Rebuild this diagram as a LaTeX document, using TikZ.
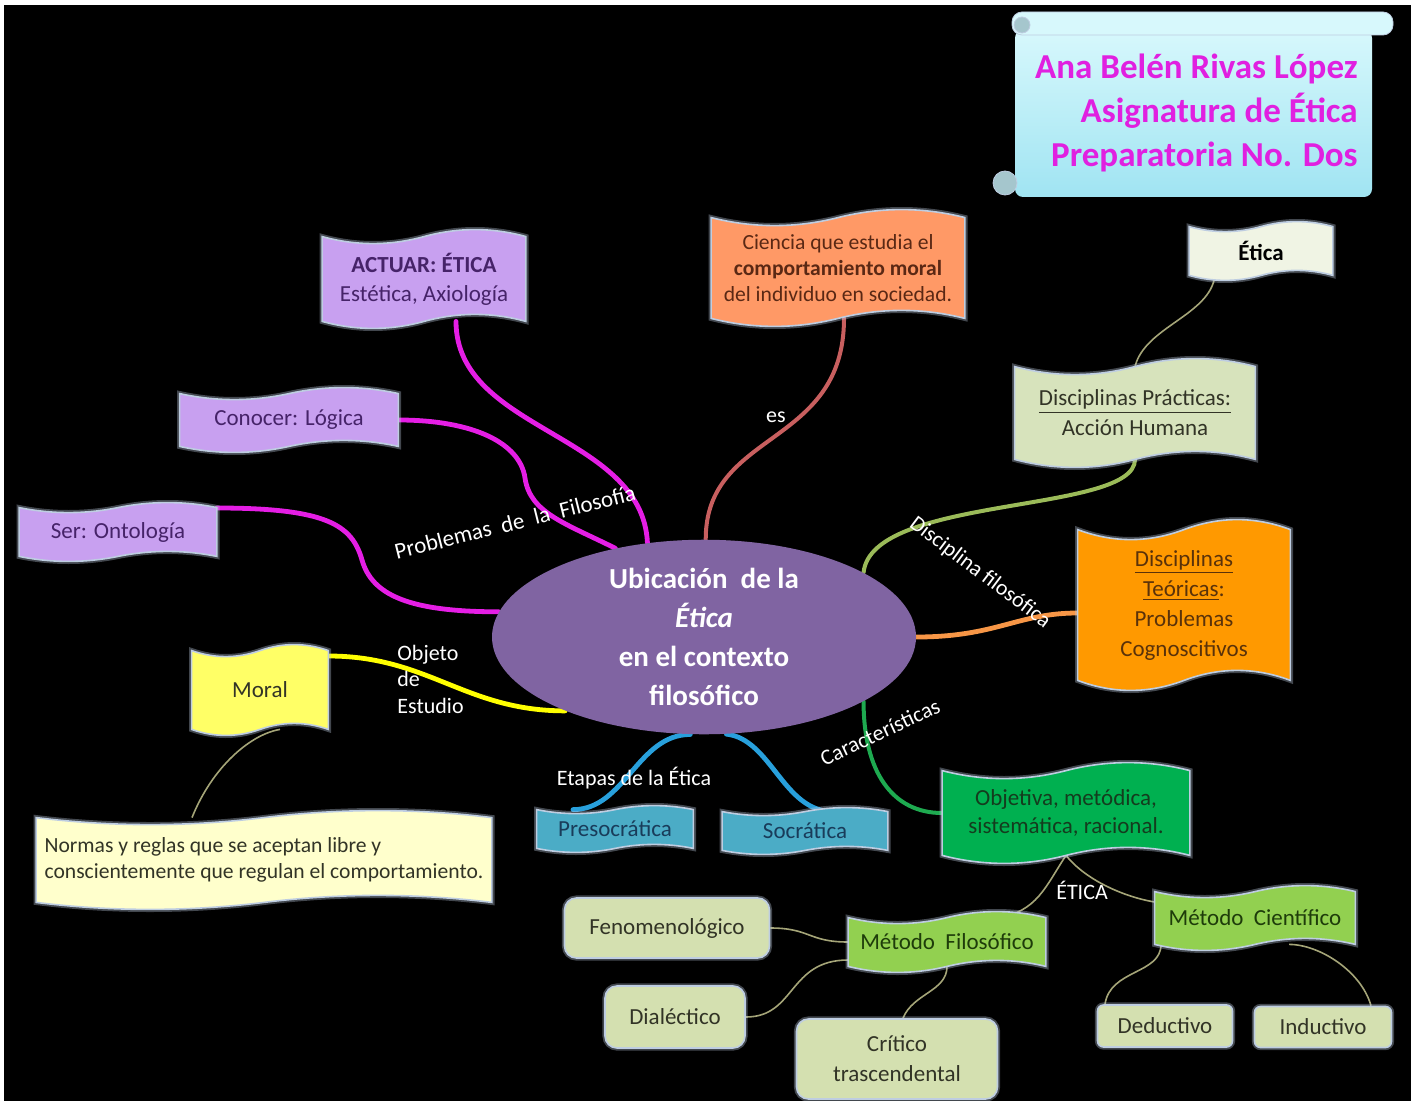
\documentclass[tikz,border=0pt]{standalone}
\usepackage{fontspec}
\setmainfont{Carlito}
\usetikzlibrary{calc,shapes.geometric}
\pgfdeclarelayer{back}
\pgfdeclarelayer{lines}
\pgfdeclarelayer{boxes}
\pgfsetlayers{back,lines,boxes,main}

\definecolor{lavender}{RGB}{200,160,240}
\definecolor{lavtext}{RGB}{70,35,105}
\definecolor{salmon}{RGB}{255,153,102}
\definecolor{salmontext}{RGB}{90,40,20}
\definecolor{paleetica}{RGB}{240,244,228}
\definecolor{practica}{RGB}{215,227,188}
\definecolor{teorica}{RGB}{255,153,0}
\definecolor{teoricatext}{RGB}{90,50,10}
\definecolor{centrefill}{RGB}{128,100,162}
\definecolor{moralfill}{RGB}{255,255,102}
\definecolor{normasfill}{RGB}{255,255,204}
\definecolor{etapafill}{RGB}{75,172,198}
\definecolor{etapatext}{RGB}{25,60,90}
\definecolor{objfill}{RGB}{0,176,80}
\definecolor{objtext}{RGB}{20,60,30}
\definecolor{metodofill}{RGB}{146,208,80}
\definecolor{metodotext}{RGB}{30,60,10}
\definecolor{olivebox}{RGB}{212,224,176}
\definecolor{darktext}{RGB}{50,52,38}
\definecolor{glow}{RGB}{190,205,225}
\definecolor{scrolltop}{RGB}{215,248,252}
\definecolor{scrollbottom}{RGB}{160,228,242}
\definecolor{curl}{RGB}{165,198,205}
\definecolor{titlemagenta}{RGB}{224,32,224}
\definecolor{magentaline}{RGB}{229,30,229}
\definecolor{esline}{RGB}{200,95,95}
\definecolor{dfline}{RGB}{155,187,89}
\definecolor{orangeline}{RGB}{247,150,70}
\definecolor{yellowline}{RGB}{255,255,0}
\definecolor{blueline}{RGB}{40,160,220}
\definecolor{greenline}{RGB}{30,170,80}
\definecolor{twigcolor}{RGB}{165,165,120}

% wave flag drawn behind a named node: #1 node, #2 amplitude, #3 fill
\newcommand{\wavefill}[3]{%
  \begin{pgfonlayer}{boxes}
  \filldraw[glowedge,fill=#3]
    (#1.north west) .. controls ($(#1.north west)!0.1667!(#1.north east)+(0,#2*1.333)$) and ($(#1.north west)!0.3333!(#1.north east)+(0,#2*1.333)$) .. (#1.north)
    .. controls ($(#1.north west)!0.6667!(#1.north east)-(0,#2*1.333)$) and ($(#1.north west)!0.8333!(#1.north east)-(0,#2*1.333)$) .. (#1.north east)
    -- (#1.south east)
    .. controls ($(#1.south west)!0.8333!(#1.south east)-(0,#2*1.333)$) and ($(#1.south west)!0.6667!(#1.south east)-(0,#2*1.333)$) .. (#1.south)
    .. controls ($(#1.south west)!0.3333!(#1.south east)+(0,#2*1.333)$) and ($(#1.south west)!0.1667!(#1.south east)+(0,#2*1.333)$) .. (#1.south west)
    -- cycle;
  \end{pgfonlayer}}

\begin{document}
\begin{tikzpicture}[x=0.5pt,y=-0.5pt,
  wavebox/.style={rectangle,inner sep=0pt,align=center,font=\fontsize{11.5}{14.5}\selectfont},
  boxsize/.style 2 args={minimum width=#1*0.5pt,minimum height=#2*0.5pt},
  roundbox/.style={wavebox,fill=olivebox,draw=glow,line width=0.8pt,rounded corners=6pt,text=darktext,
    preaction={draw=glow,line width=2.6pt,opacity=0.35}},
  glowedge/.style={draw=glow,line width=0.8pt,preaction={draw=glow,line width=2.6pt,opacity=0.35}},
  linklabel/.style={text=white,inner sep=0pt,font=\fontsize{11}{13.5}\selectfont},
  link/.style={line width=2.4pt,line cap=round},
  twig/.style={draw=twigcolor,line width=0.8pt}]
	\useasboundingbox (0,0) rectangle (1411,1101);
	\begin{pgfonlayer}{back}
	\fill[white] (0,0) rectangle (1411,1101);
	\fill[black] (4,5) rectangle (1411,1101);
	\end{pgfonlayer}

	%TITLE SCROLL
	\begin{pgfonlayer}{boxes}
	\shade[top color=scrolltop,bottom color=scrollbottom,rounded corners=4pt] (1015,30) rectangle (1372,197);
	\filldraw[fill=scrolltop,draw=glow,rounded corners=5pt] (1012,12) rectangle (1393,35);
	\filldraw[fill=curl,draw=glow] (1022,25) circle (4pt);
	\filldraw[fill=curl,draw=glow] (1005,183) circle (6pt);
	\end{pgfonlayer}
	\node[anchor=east,align=right,inner sep=0pt,text=titlemagenta,font=\fontsize{17.5}{22}\bfseries] (title) at (1358,113)
		{Ana Belén Rivas López\\Asignatura de Ética\\Preparatoria No. Dos};

	%CENTRE
	\node[ellipse,fill=centrefill,inner sep=0pt,minimum width=212pt,minimum height=82pt,align=center,text=white,font=\fontsize{14.5}{19.5}\bfseries] (centre) at (704,637)
		{Ubicación~ de la\\\textit{Ética}\\en el contexto\\filosófico};

	%WAVE BOXES
	\node[wavebox,boxsize={203}{84},text=lavtext] (actuar) at (424,279) {\textbf{ACTUAR: ÉTICA}\\Estética, Axiología};
	\wavefill{actuar}{7}{lavender}
	\node[wavebox,boxsize={218}{52},text=lavtext] (conocer) at (289,420) {Conocer: Lógica};
	\wavefill{conocer}{6}{lavender}
	\node[wavebox,boxsize={197}{48},text=lavtext] (ser) at (118,532) {Ser: Ontología};
	\wavefill{ser}{5}{lavender}
	%
	\node[wavebox,boxsize={253}{100},text=salmontext,font=\fontsize{10.8}{13}\selectfont] (ciencia) at (838,268)
		{Ciencia que estudia el\\\textbf{comportamiento moral}\\del individuo en sociedad.};
	\wavefill{ciencia}{8}{salmon}
	\node[wavebox,boxsize={143}{48},text=black] (etica) at (1261,251) {\textbf{Ética}};
	\wavefill{etica}{5}{paleetica}
	\node[wavebox,boxsize={240}{92},text=darktext,font=\fontsize{11.5}{15}\selectfont] (practicas) at (1135,413)
		{\underline{Disciplinas Prácticas:}\\Acción Humana};
	\wavefill{practicas}{8}{practica}
	\node[wavebox,boxsize={212}{150},text=teoricatext,font=\fontsize{11.5}{15}\selectfont] (teoricas) at (1184,605)
		{\underline{Disciplinas}\\\underline{Teóricas}:\\Problemas\\Cognoscitivos};
	\wavefill{teoricas}{10}{teorica}
	%
	\node[wavebox,boxsize={136}{78},text=darktext] (moral) at (260,690) {Moral};
	\wavefill{moral}{6}{moralfill}
	\node[wavebox,boxsize={455}{84},align=left,text=darktext,font=\fontsize{10.8}{13}\selectfont] (normas) at (264,860)
		{Normas y reglas que se aceptan libre y\\conscientemente que regulan el comportamiento.};
	\wavefill{normas}{7}{normasfill}
	%
	\node[wavebox,boxsize={156}{38},text=etapatext] (presocratica) at (615,829) {Presocrática};
	\wavefill{presocratica}{4}{etapafill}
	\node[wavebox,boxsize={165}{38},text=etapatext] (socratica) at (805,831) {Socrática};
	\wavefill{socratica}{4}{etapafill}
	%
	\node[wavebox,boxsize={247}{84},text=objtext,font=\fontsize{11.5}{14}\selectfont] (objetiva) at (1066,813)
		{Objetiva, metódica,\\sistemática, racional.};
	\wavefill{objetiva}{8}{objfill}
	\node[wavebox,boxsize={197}{48},text=metodotext] (filosofico) at (947,942) {Método~ Filosófico};
	\wavefill{filosofico}{6}{metodofill}
	\node[wavebox,boxsize={200}{52},text=metodotext] (cientifico) at (1255,918) {Método~ Científico};
	\wavefill{cientifico}{6}{metodofill}

	%ROUNDED BOXES
	\node[roundbox,boxsize={205}{60}] (fenomenologico) at (667,928) {Fenomenológico};
	\node[roundbox,boxsize={140}{62}] (dialectico) at (675,1017) {Dialéctico};
	\node[roundbox,boxsize={201}{80},font=\fontsize{11.5}{15}\selectfont] (critico) at (897,1059) {Crítico\\trascendental};
	\node[roundbox,boxsize={135}{42},rounded corners=3pt] (deductivo) at (1165,1026) {Deductivo};
	\node[roundbox,boxsize={137}{41},rounded corners=3pt] (inductivo) at (1323,1027) {Inductivo};

	%CONNECTORS
	\begin{pgfonlayer}{lines}
	\draw[link,magentaline] ([xshift=16pt]actuar.south) .. controls +(0,110) and +(-5,-110) .. (centre.121);
	\draw[link,magentaline] (conocer.east) .. controls +(75,0) and +(-5,-35) .. (525,478) .. controls +(5,35) and +(-50,-25) .. (centre.135);
	\draw[link,magentaline] ([yshift=12pt]ser.east) .. controls +(110,0) and +(-10,-35) .. (362,560) .. controls +(10,35) and +(-90,0) .. (centre.173);
	%
	\draw[link,esline,line width=2pt] ([xshift=3pt]ciencia.south) .. controls +(0,130) and +(0,-110) .. (centre.89);
	\draw[twig] ([xshift=-23pt]etica.south) .. controls +(-5,40) and +(10,-40) .. (practicas.north);
	\draw[link,dfline,line width=2pt] (practicas.south) .. controls +(0,55) and +(8,-78) .. (centre.22);
	\draw[link,orangeline] (centre.0) .. controls +(80,0) and +(-60,0) .. ([yshift=-4pt]teoricas.west);
	%
	\draw[link,yellowline] ([yshift=17pt]moral.east) .. controls +(100,0) and +(-100,0) .. (centre.208);
	\draw[twig] ([xshift=10pt]moral.south) .. controls +(-30,5) and +(20,-50) .. ([xshift=-36pt]normas.north);
	%
	\draw[link,blueline] (centre.262) .. controls +(-53,0) and +(52,0) .. ([xshift=-21pt]presocratica.north);
	\draw[link,blueline] (centre.283) .. controls +(45,5) and +(-50,0) .. ([xshift=14pt]socratica.north);
	\draw[link,greenline,line width=2pt] (centre.-22) .. controls +(0,70) and +(-50,0) .. (objetiva.west);
	%
	\draw[twig] (objetiva.south) .. controls +(-20,30) and +(40,-5) .. ([xshift=25pt]filosofico.north);
	\draw[twig] (objetiva.south) .. controls +(20,25) and +(-30,-5) .. ([yshift=8pt]cientifico.west);
	\draw[twig] (filosofico.west) .. controls +(-40,0) and +(40,0) .. (fenomenologico.east);
	\draw[twig] ([yshift=-9pt]filosofico.west) .. controls +(-60,0) and +(50,0) .. (dialectico.east);
	\draw[twig] (filosofico.south) .. controls +(0,25) and +(10,-25) .. ([xshift=3pt]critico.north);
	\draw[twig] ([xshift=-47pt]cientifico.south) .. controls +(0,30) and +(5,-35) .. ([xshift=-30pt]deductivo.north);
	\draw[twig] ([xshift=17pt]cientifico.south) .. controls +(30,0) and +(-10,-35) .. ([xshift=24pt]inductivo.north);
	\end{pgfonlayer}

	%LINK LABELS
	\node[linklabel,rotate=14,font=\fontsize{11.5}{14}\selectfont] (problemas) at (515,522) {Problemas~ de~ la~ Filosofía};
	\node[linklabel] (es) at (776,417) {es};
	\node[linklabel,rotate=-37] (disciplina) at (980,573) {Disciplina filosófica};
	\node[linklabel,anchor=west,align=left,font=\fontsize{11}{13.25}\selectfont] (objeto) at (397,679) {Objeto\\de\\Estudio};
	\node[linklabel] (etapas) at (634,778) {Etapas de la Ética};
	\node[linklabel,rotate=25] (caracteristicas) at (880,732) {Características};
	\node[linklabel] (eticalabel) at (1082,890) {ÉTICA};
\end{tikzpicture}
\end{document}
